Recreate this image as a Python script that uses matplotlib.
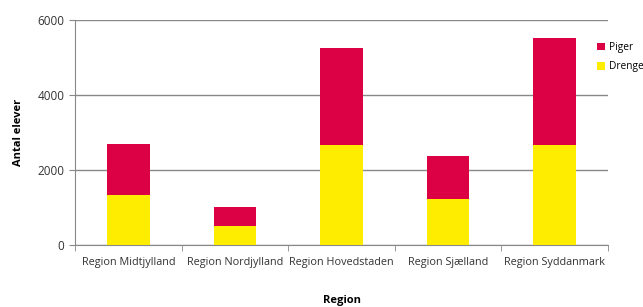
import matplotlib
matplotlib.use("Agg")
import matplotlib.pyplot as plt
import numpy as np

regions = ["Region Midtjylland", "Region Nordjylland", "Region Hovedstaden",
           "Region Sjælland", "Region Syddanmark"]
drenge = [1325, 507, 2658, 1218, 2675]
piger = [1360, 506, 2595, 1155, 2845]

plt.rcParams["font.family"] = ["Open Sans", "DejaVu Sans"]

fig = plt.figure(figsize=(6.43, 3.07), dpi=100)
ax = fig.add_axes([75 / 643, 1 - 245 / 307, (608 - 75) / 643, 225 / 307])

x = np.arange(len(regions))
b1 = ax.bar(x, drenge, width=0.4, color="#ffed00", label="Drenge", zorder=3)
b2 = ax.bar(x, piger, width=0.4, bottom=drenge, color="#dc0044", label="Piger", zorder=3)

ax.set_xlim(-0.5, len(regions) - 0.5)
ax.set_ylim(0, 6000)
ax.set_yticks([0, 2000, 4000, 6000])
ax.yaxis.grid(True, color="#888888", linewidth=1, zorder=0)

ax.set_xticks(x)
ax.set_xticklabels(regions)
ax.set_xticks(np.arange(len(regions) + 1) - 0.5, minor=True)
ax.tick_params(axis="x", which="major", length=0, pad=9, labelsize=7.8, colors="#333333")
ax.tick_params(axis="x", which="minor", length=4, color="#888888")
ax.tick_params(axis="y", length=4, color="#888888", labelsize=8.5, colors="#333333")
ax.tick_params(axis="y", labelcolor="#333333")

for s in ["top", "right"]:
    ax.spines[s].set_visible(False)
for s in ["left", "bottom"]:
    ax.spines[s].set_color("#888888")

ax.set_ylabel("Antal elever", fontsize=8, fontweight="bold", labelpad=10)
ax.set_xlabel("Region", fontsize=8, fontweight="bold", labelpad=19)

fig.legend(handles=[b2, b1], labels=["Piger", "Drenge"], loc="upper left",
           bbox_to_anchor=(588 / 643, 1 - 33 / 307), frameon=False, fontsize=7.3,
           handlelength=0.8, handleheight=0.8, handletextpad=0.4, labelspacing=0.8)

fig.savefig("out.png", dpi=100)
